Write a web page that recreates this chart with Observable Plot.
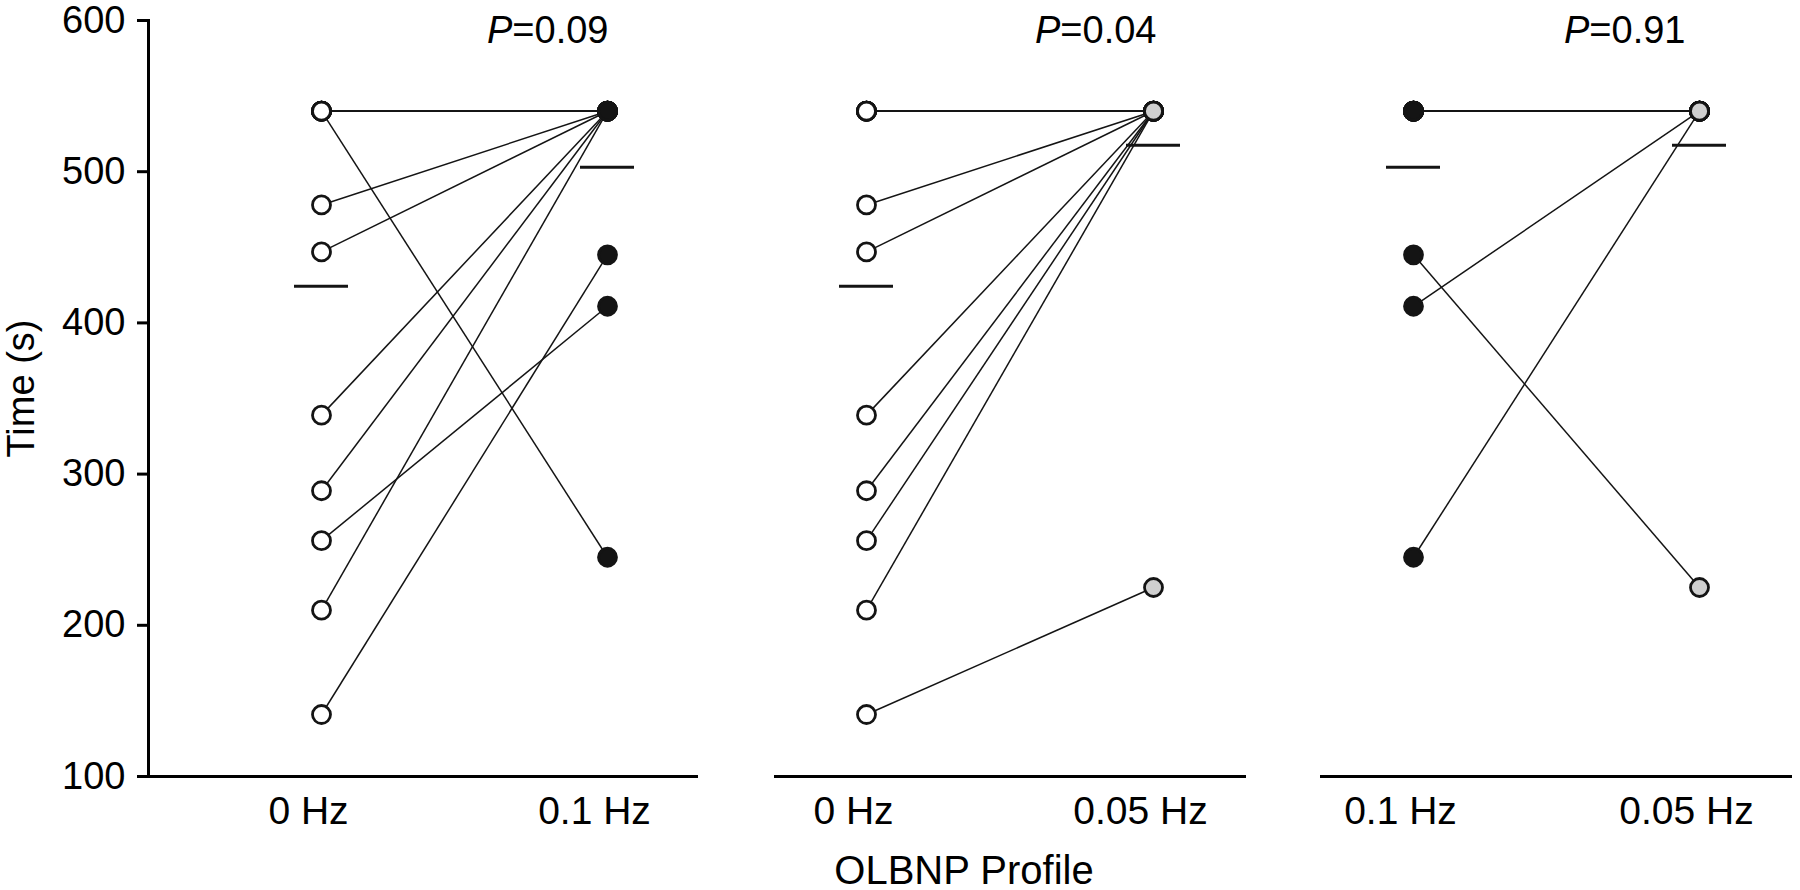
<!DOCTYPE html>
<html>
<head>
<meta charset="utf-8">
<script src="https://cdn.jsdelivr.net/npm/d3@7"></script>
<script src="https://cdn.jsdelivr.net/npm/@observablehq/plot@0.6"></script>
<style>
  html, body { margin: 0; padding: 0; background: white; }
  #chart { position: relative; width: 1800px; height: 890px; font-family: "Liberation Sans", Arial, sans-serif; color: black; }
  .panel { position: absolute; top: 0; }
  #xlabel { position: absolute; top: 852px; left: 664px; width: 600px; text-align: center; font-size: 40px; line-height: 36px; }
</style>
</head>
<body>
<div id="chart">
  <div class="panel" id="p0"></div>
  <div class="panel" id="p1"></div>
  <div class="panel" id="p2"></div>
  <div id="xlabel">OLBNP Profile</div>
</div>
<script>
// ---- data (14 subjects; several overlap at the 540 s ceiling) ----
const conditions = ["0 Hz", "0.1 Hz", "0.05 Hz"];
const hz0   = [540, 540, 478, 447, 339, 289, 256, 210, 141, 540, 540, 540, 540, 540];
const hz01  = [540, 245, 540, 540, 540, 540, 411, 540, 445, 540, 540, 540, 540, 540];
const hz005 = [540, 540, 540, 540, 540, 540, 540, 540, 225, 540, 540, 540, 540, 540];
const yTicks = [100, 200, 300, 400, 500, 600];
const pValues = ["0.09", "0.04", "0.91"];
const comparisons = [["0 Hz", "0.1 Hz"], ["0 Hz", "0.05 Hz"], ["0.1 Hz", "0.05 Hz"]];
const yLabel = "Time (s)";

const valuesByCond = {"0 Hz": hz0, "0.1 Hz": hz01, "0.05 Hz": hz005};
const fills = {"0 Hz": "white", "0.1 Hz": "#141414", "0.05 Hz": "#d0d0d0"};

const layout = [
  {id: "p0", left: 0,    width: 736, marginLeft: 148, marginRight: 38, range: [321, 607], pdx: 1,   yAxis: true},
  {id: "p1", left: 736,  width: 547, marginLeft: 38,  marginRight: 37, range: [130, 417], pdx: 3,   yAxis: false},
  {id: "p2", left: 1283, width: 517, marginLeft: 37,  marginRight: 8,  range: [130, 416], pdx: -14, yAxis: false}
];

comparisons.forEach(([a, b], k) => {
  const L = layout[k];
  const va = valuesByCond[a], vb = valuesByCond[b];
  const idx = d3.range(va.length);
  const marks = [];
  if (L.yAxis) {
    marks.push(Plot.axisY({ticks: yTicks, tickSize: 11, tickPadding: 12, strokeWidth: 3, label: null}));
    marks.push(Plot.frame({anchor: "left", strokeWidth: 3}));
    marks.push(Plot.text([yLabel], {frameAnchor: "left", text: d => d, rotate: -90, textAnchor: "middle", lineAnchor: "middle", dx: -127, dy: -10, fill: "black"}));
  }
  marks.push(
    Plot.axisX({tickSize: 0, tickPadding: 20, dx: -13, fontSize: 39, label: null}),
    Plot.ruleY([100], {strokeWidth: 3}),
    Plot.link(idx, {x1: () => a, y1: i => va[i], x2: () => b, y2: i => vb[i], stroke: "#141414", strokeWidth: 1.5}),
    Plot.ruleY([a, b], {x1: c => c, x2: c => c, y: c => d3.mean(valuesByCond[c]), insetLeft: -27, insetRight: -27, strokeWidth: 3, stroke: "#141414"}),
    Plot.dot(va, {x: () => a, y: d => d, r: 9, fill: fills[a], stroke: "#141414", strokeWidth: 2.8}),
    Plot.dot(vb, {x: () => b, y: d => d, r: 9, fill: fills[b], stroke: "#141414", strokeWidth: 2.8}),
    Plot.text([pValues[k]], {x: () => b, frameAnchor: "top", text: d => "P=" + d, textAnchor: "end", lineAnchor: "middle", dy: 10, dx: L.pdx, fill: "black"})
  );
  const chart = Plot.plot({
    width: L.width, height: 840,
    marginLeft: L.marginLeft, marginRight: L.marginRight, marginTop: 20, marginBottom: 64,
    style: {fontFamily: "'Liberation Sans', Arial, sans-serif", fontSize: "38px", color: "black", background: "white", overflow: "visible"},
    x: {type: "point", domain: [a, b], range: L.range, padding: 0, label: null, axis: null},
    y: {domain: [100, 600], label: null, axis: null},
    marks
  });
  chart.querySelectorAll('g[aria-label="text"] text').forEach(t => {
    const s = t.textContent;
    if (s.startsWith("P=")) {
      t.textContent = "";
      const ns = "http://www.w3.org/2000/svg";
      const ts = document.createElementNS(ns, "tspan");
      ts.setAttribute("font-style", "italic");
      ts.textContent = "P";
      t.appendChild(ts);
      t.appendChild(document.createTextNode(s.slice(1)));
    }
  });
  const host = document.getElementById(L.id);
  host.style.left = L.left + "px";
  host.appendChild(chart);
});
</script>
</body>
</html>
